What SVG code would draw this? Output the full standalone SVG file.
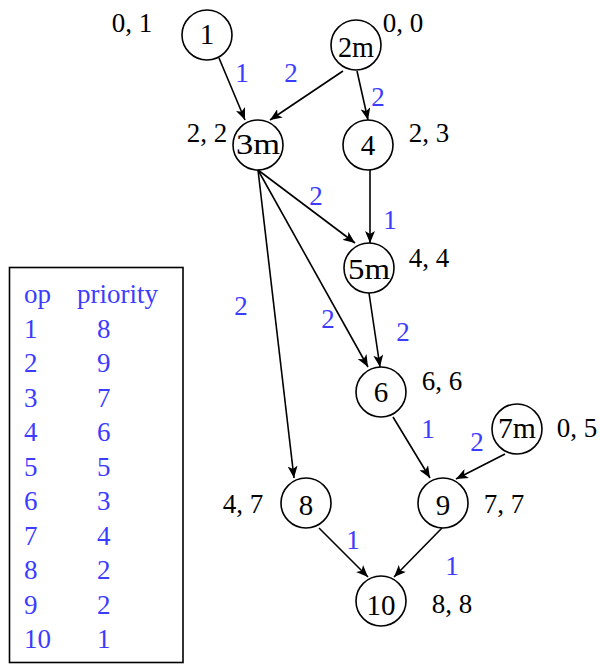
<svg xmlns="http://www.w3.org/2000/svg" width="600" height="664" viewBox="0 0 600 664">
<style>
.node circle{fill:#fff;stroke:#000;stroke-width:1.6}
.nt{font-family:"Liberation Serif","Times New Roman",serif;font-size:29px;fill:#000;text-anchor:middle}
.lbl{font-family:"Liberation Serif","Times New Roman",serif;font-size:27px;fill:#000;text-anchor:middle}
.w{font-family:"Liberation Serif","Times New Roman",serif;font-size:27px;fill:#3c3cff;text-anchor:middle}
.tb{font-family:"Liberation Serif","Times New Roman",serif;font-size:27px;fill:#3c3cff}
.edges line{stroke:#000;stroke-width:1.6;marker-end:url(#ah)}
</style>
<defs>
<marker id="ah" markerUnits="userSpaceOnUse" markerWidth="14" markerHeight="10" refX="12" refY="5" orient="auto">
<path d="M0,0 L12,5 L0,10 L3,5 Z" fill="#000"/>
</marker>
</defs>
<rect width="600" height="664" fill="#fff"/>

<g id="edges" class="edges">
<line x1="219" y1="58" x2="245" y2="120"/>
<line x1="343" y1="71" x2="270" y2="120"/>
<line x1="357" y1="71" x2="368" y2="120"/>
<line x1="370" y1="170" x2="370" y2="243"/>
<line x1="258" y1="170" x2="355" y2="243"/>
<line x1="258" y1="170" x2="368" y2="367"/>
<line x1="258" y1="170" x2="294" y2="478"/>
<line x1="369" y1="293" x2="380" y2="367"/>
<line x1="393" y1="417" x2="430" y2="478"/>
<line x1="505" y1="454" x2="456" y2="479"/>
<line x1="319" y1="528" x2="368" y2="577"/>
<line x1="442" y1="528" x2="394" y2="577"/>
</g>

<g id="edge-labels">
<text class="w" x="242" y="82">1</text>
<text class="w" x="291" y="82">2</text>
<text class="w" x="378" y="106">2</text>
<text class="w" x="316" y="205">2</text>
<text class="w" x="390" y="229">1</text>
<text class="w" x="241" y="315">2</text>
<text class="w" x="328" y="328">2</text>
<text class="w" x="403" y="341">2</text>
<text class="w" x="428" y="438">1</text>
<text class="w" x="477" y="451">2</text>
<text class="w" x="353" y="549">1</text>
<text class="w" x="452" y="575">1</text>
</g>

<g id="n1" class="node"><circle cx="207" cy="35" r="25"/><text class="nt" x="207" y="44">1</text><text class="lbl" x="132" y="32">0, 1</text></g>
<g id="n2m" class="node"><circle cx="356" cy="45" r="25"/><text class="nt" x="356" y="57" textLength="36" lengthAdjust="spacingAndGlyphs">2m</text><text class="lbl" x="403" y="32">0, 0</text></g>
<g id="n3m" class="node"><circle cx="258" cy="145" r="25"/><text class="nt" x="258" y="154" textLength="44" lengthAdjust="spacingAndGlyphs">3m</text><text class="lbl" x="207" y="142">2, 2</text></g>
<g id="n4" class="node"><circle cx="368" cy="145" r="25"/><text class="nt" x="368" y="155">4</text><text class="lbl" x="429" y="142">2, 3</text></g>
<g id="n5m" class="node"><circle cx="369" cy="268" r="25"/><text class="nt" x="369" y="279" textLength="42" lengthAdjust="spacingAndGlyphs">5m</text><text class="lbl" x="429" y="267">4, 4</text></g>
<g id="n6" class="node"><circle cx="381" cy="392" r="25"/><text class="nt" x="381" y="402">6</text><text class="lbl" x="442" y="390">6, 6</text></g>
<g id="n7m" class="node"><circle cx="517" cy="429" r="25"/><text class="nt" x="517" y="438" textLength="38" lengthAdjust="spacingAndGlyphs">7m</text><text class="lbl" x="577" y="437">0, 5</text></g>
<g id="n8" class="node"><circle cx="306" cy="503" r="25"/><text class="nt" x="306" y="515">8</text><text class="lbl" x="243" y="513">4, 7</text></g>
<g id="n9" class="node"><circle cx="443" cy="503" r="25"/><text class="nt" x="443" y="515">9</text><text class="lbl" x="504" y="513">7, 7</text></g>
<g id="n10" class="node"><circle cx="381" cy="601" r="25"/><text class="nt" x="381" y="615">10</text><text class="lbl" x="452" y="613">8, 8</text></g>

<g id="table">
<rect x="9.5" y="267.5" width="173.5" height="395" fill="none" stroke="#000" stroke-width="1.6"/>
<text class="tb" x="24" y="303">op</text>
<text class="tb" x="77" y="303">priority</text>
<text class="tb" x="24" y="338">1</text><text class="tb" x="97" y="338">8</text>
<text class="tb" x="24" y="372.4">2</text><text class="tb" x="97" y="372.4">9</text>
<text class="tb" x="24" y="406.9">3</text><text class="tb" x="97" y="406.9">7</text>
<text class="tb" x="24" y="441.3">4</text><text class="tb" x="97" y="441.3">6</text>
<text class="tb" x="24" y="475.8">5</text><text class="tb" x="97" y="475.8">5</text>
<text class="tb" x="24" y="510.2">6</text><text class="tb" x="97" y="510.2">3</text>
<text class="tb" x="24" y="544.7">7</text><text class="tb" x="97" y="544.7">4</text>
<text class="tb" x="24" y="579.1">8</text><text class="tb" x="97" y="579.1">2</text>
<text class="tb" x="24" y="613.6">9</text><text class="tb" x="97" y="613.6">2</text>
<text class="tb" x="24" y="648">10</text><text class="tb" x="97" y="648">1</text>
</g>
</svg>
